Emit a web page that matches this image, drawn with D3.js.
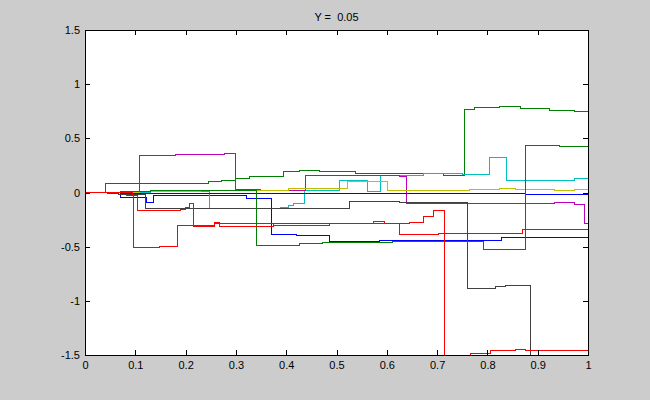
<!DOCTYPE html>
<html>
<head>
<meta charset="utf-8">
<script src="https://cdn.jsdelivr.net/npm/d3@7"></script>
<style>
  html, body { margin: 0; padding: 0; background: #cccccc; }
  svg { display: block; }
  text { font-family: "Liberation Sans", Arial, sans-serif; font-size: 11px; fill: #000; }
</style>
</head>
<body>
<svg id="chart" width="650" height="400"></svg>
<script>
// ---- data: each series is a list of [x, y] step points (value holds from x onward) ----
const titleText = "Y =  0.05";
const xTicks = [0, 0.1, 0.2, 0.3, 0.4, 0.5, 0.6, 0.7, 0.8, 0.9, 1];
const xTickLabels = ["0", "0.1", "0.2", "0.3", "0.4", "0.5", "0.6", "0.7", "0.8", "0.9", "1"];
const yTicks = [-1.5, -1, -0.5, 0, 0.5, 1, 1.5];
const yTickLabels = ["-1.5", "-1", "-0.5", "0", "0.5", "1", "1.5"];

const blueA = [[0,0],[0.07,-0.05],[0.123,-0.088],[0.137,-0.032],[0.322,-0.054],[0.37,-0.39],
  [0.42,-0.395],[0.487,-0.45],[0.586,-0.443],[0.829,-0.417],[1,-0.417]];
const greenA = [[0,0],[0.04,0.085],[0.245,0.097],[0.272,0.115],[0.3,0.13],[0.328,0.146],[0.394,0.19],
  [0.427,0.2],[0.467,0.19],[0.537,0.177],[0.712,0.16],[0.755,0.77],[0.775,0.785],[0.825,0.79],
  [0.865,0.78],[0.924,0.76],[0.974,0.75],[1,0.75]];
const redA = [[0,0],[0.083,-0.03],[0.097,-0.51],[0.149,-0.5],[0.183,-0.306],[0.258,-0.29],[0.374,-0.3],
  [0.487,-0.29],[0.573,-0.27],[0.596,-0.29],[0.626,-0.39],[0.702,-0.377],[0.869,-0.34],[1,-0.34]];
const cyanA = [[0,0],[0.13,0.007],[0.247,-0.148],[0.388,-0.134],[0.404,-0.122],[0.414,-0.097],
  [0.437,0.023],[0.505,0.11],[0.561,0.007],[0.588,0.16],[0.672,0.177],[0.751,0.17],[0.805,0.32],
  [0.837,0.115],[0.974,0.125],[1,0.125]];
const magentaA = [[0,0],[0.109,0.346],[0.18,0.355],[0.229,0.35],[0.278,0.36],[0.3,0.032],[0.348,0.023],
  [0.439,0.155],[0.547,0.16],[0.626,0.152],[0.64,-0.106],[0.785,-0.106],[0.934,-0.09],[0.974,-0.11],
  [0.994,-0.284],[1,-0.284]];
const yellowA = [[0,0],[0.109,0.007],[0.229,0.018],[0.404,0.039],[0.521,0.097],[0.602,0.023],
  [0.765,0.03],[0.825,0.039],[0.855,0.03],[0.934,0.017],[0.974,0.026],[1,0.026]];
const grayA = [[0,0],[0.044,-0.007],[0.066,-0.014],[0.121,-0.152],[0.348,-0.148],[0.525,-0.085],
  [0.626,-0.092],[0.761,-0.885],[0.817,-0.87],[0.835,-0.86],[0.885,-1.7],[1,-1.7]];
const blueB = [[0,0],[0.07,-0.005],[0.159,-0.01],[0.344,-0.007],[0.875,-0.023],[1,-0.023]];
const greenB = [[0,0],[0.07,0.005],[0.13,0.017],[0.229,0.018],[0.341,-0.485],[0.427,-0.475],
  [0.473,-0.466],[0.612,-0.454],[0.686,-0.452],[0.793,-0.53],[0.875,0.43],[0.944,0.425],[1,0.425]];
const redB = [[0,0],[0.095,-0.03],[0.105,-0.17],[0.189,-0.155],[0.2,-0.134],[0.207,-0.106],
  [0.215,-0.316],[0.258,-0.28],[0.268,-0.31],[0.374,-0.29],[0.646,-0.28],[0.672,-0.217],
  [0.692,-0.168],[0.714,-1.5],[0.767,-1.49],[0.807,-1.454],[0.855,-1.45],[0.875,-1.454],[1,-1.454]];

const seriesList = [blueA, greenA, redA, cyanA, magentaA, yellowA, grayA, blueB, greenB, redB];
const seriesColors = ["#0000ff", "#008000", "#ff0000", "#00bfbf", "#bf00bf", "#bfbf00", "#404040",
  "#0000ff", "#008000", "#ff0000"];

// ---- layout ----
const svg = d3.select("#chart");
const L = 85, R = 588, T = 30, B = 355;
const x = d3.scaleLinear().domain([0, 1]).range([L, R]);
const y = d3.scaleLinear().domain([-1.5, 1.5]).range([B, T]);

svg.append("rect").attr("x", 0).attr("y", 0).attr("width", 650).attr("height", 400).attr("fill", "#cccccc");
svg.append("rect").attr("x", L).attr("y", T).attr("width", R - L).attr("height", B - T).attr("fill", "#ffffff");

svg.append("defs").append("clipPath").attr("id", "clip")
  .append("rect").attr("x", L).attr("y", T).attr("width", R - L).attr("height", B - T + 1);

const line = d3.line().x(d => x(d[0])).y(d => y(d[1])).curve(d3.curveStepAfter);
const plot = svg.append("g").attr("clip-path", "url(#clip)");
seriesList.forEach((s, i) => {
  plot.append("path").attr("d", line(s)).attr("fill", "none")
    .attr("stroke", seriesColors[i]).attr("stroke-width", 1)
    .attr("shape-rendering", "crispEdges");
});

// ---- axes ----
function styleAxis(g) {
  g.select(".domain").remove();
  g.selectAll("line").attr("stroke", "#000").attr("shape-rendering", "crispEdges");
  g.selectAll("text").attr("font-family", "Liberation Sans, Arial, sans-serif").attr("font-size", 11).attr("fill", "#000");
}
svg.append("g").attr("transform", `translate(0,${B})`)
  .call(d3.axisBottom(x).tickValues(xTicks).tickFormat((d, i) => xTickLabels[i]).tickSizeInner(-5).tickSizeOuter(0).tickPadding(6))
  .call(styleAxis);
svg.append("g").attr("transform", `translate(0,${T})`)
  .call(d3.axisTop(x).tickValues(xTicks).tickFormat("").tickSizeInner(-5).tickSizeOuter(0))
  .call(styleAxis);
svg.append("g").attr("transform", `translate(${L},0)`)
  .call(d3.axisLeft(y).tickValues(yTicks).tickFormat((d, i) => yTickLabels[i]).tickSizeInner(-5).tickSizeOuter(0).tickPadding(5))
  .call(styleAxis);
svg.append("g").attr("transform", `translate(${R},0)`)
  .call(d3.axisRight(y).tickValues(yTicks).tickFormat("").tickSizeInner(-5).tickSizeOuter(0))
  .call(styleAxis);

svg.append("rect").attr("x", L + 0.5).attr("y", T + 0.5).attr("width", R - L).attr("height", B - T)
  .attr("fill", "none").attr("stroke", "#000").attr("stroke-width", 1);

svg.append("text").attr("x", (L + R) / 2).attr("y", 21).attr("text-anchor", "middle")
  .style("white-space", "pre").text(titleText);
</script>
</body>
</html>
